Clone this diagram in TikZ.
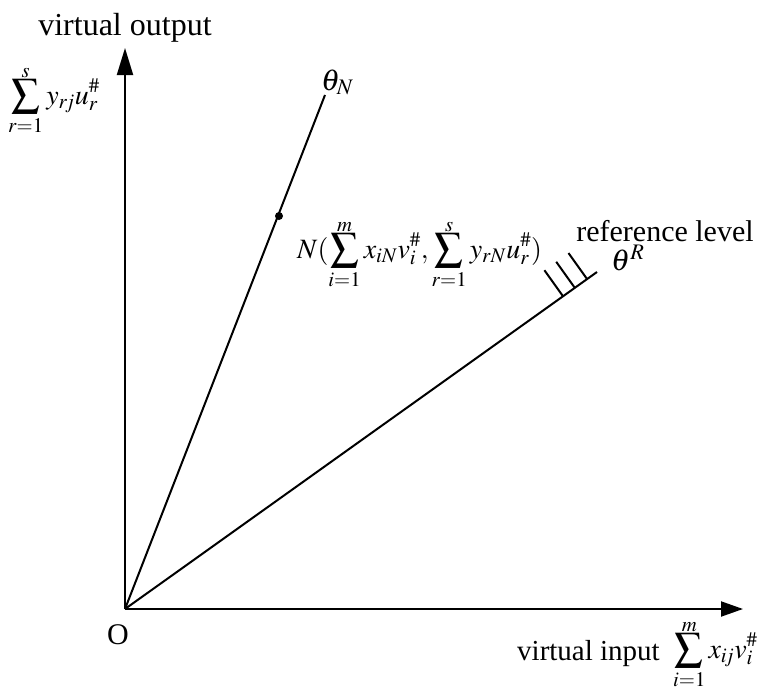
\documentclass[tikz,border=0pt]{standalone}
\usepackage{mathptmx}
\usepackage{fontspec}
\setmainfont{Liberation Serif}
\usetikzlibrary{arrows.meta,calc}
\newcommand\mysum[2]{\sum\limits_{#1}^{\smash{\raisebox{-3pt}{$\scriptstyle #2$}}}}
\begin{document}
\begin{tikzpicture}[x=1pt,y=-1pt,
  vaxis/.style={line width=2pt,-{Triangle[length=27pt,width=16pt]}},
  haxis/.style={line width=2pt,-{Triangle[length=22pt,width=15pt]}},
  ray/.style={line width=2pt},
  hash/.style={line width=2pt},
  toplbl/.style={inner sep=0pt,font=\fontsize{32}{38}\selectfont},
  botlbl/.style={inner sep=0pt,font=\fontsize{29}{35}\selectfont},
  olbl/.style={inner sep=0pt,font=\fontsize{30}{36}\selectfont},
  mlbl/.style={inner sep=0pt,font=\fontsize{28}{34}\selectfont},
  tlbl/.style={inner sep=0pt,font=\fontsize{30}{36}\selectfont}]
\useasboundingbox (0,0) rectangle (766,688);
\coordinate (O) at (125,609);
\coordinate (ytip) at (125,48);
\coordinate (xtip) at (743,609);
\coordinate (Nend) at (325,95);
\coordinate (Rend) at (597,272);
\draw[vaxis] (O) -- (ytip);
\draw[haxis] (O) -- (xtip);
\draw[ray] (O) -- (Nend);
\draw[ray] (O) -- (Rend);
\node[circle,fill,inner sep=0pt,minimum size=8pt] (dot) at (279,216) {};
\foreach \t/\n in {0.928/a,0.953/b,0.979/c}{
  \coordinate (h\n) at ($(O)!\t!(Rend)$);
  \coordinate (k\n) at ($(h\n)!32pt!90:(Rend)$);
  \draw[hash] (h\n) -- (k\n);
}
\node[toplbl,anchor=base] (vo) at (125,35) {virtual output};
\node[mlbl,anchor=base west] (ysum) at (8,104) {$\displaystyle\mysum{r=1}{s} y_{r\!j}u_r^{\#}$};
\node[tlbl,anchor=base west] (thN) at (321,90) {$\theta_N$};
\node[mlbl,anchor=base west] (Npt) at (297,258) {$N(\displaystyle\mysum{i=1}{m} x_{iN}v_i^{\#},\mysum{r=1}{s} y_{rN}u_r^{\#})$};
\node[tlbl,anchor=base west] (thR) at (611,270) {$\theta^R$};
\node[olbl,anchor=base] (rl) at (665,241) {reference level};
\node[olbl] (Olbl) at (118,635) {O};
\node[botlbl,anchor=base west] (vi) at (517,660) {virtual input};
\node[mlbl,anchor=base west] (xsum) at (673,658) {$\displaystyle\mysum{i=1}{m} x_{i\!j}v_i^{\#}$};
\end{tikzpicture}
\end{document}
